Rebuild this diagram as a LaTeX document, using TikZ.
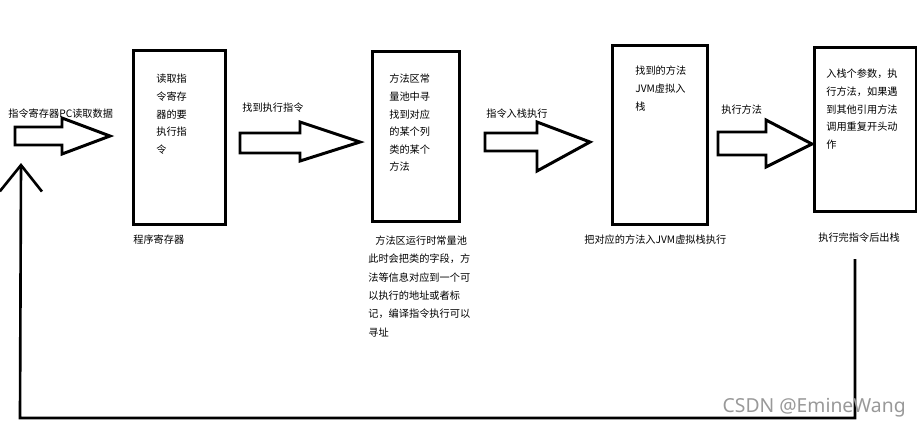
\documentclass[tikz,border=0pt]{standalone}
\usepackage{fontspec}
\setmainfont{Noto Sans CJK SC}
\usetikzlibrary{arrows.meta}

\begin{document}
\begin{tikzpicture}[x=0.02cm,y=-0.02cm,
  box/.style={shape=rectangle,draw=black,line width=1.7pt,inner sep=0pt},
  txt/.style={align=left,inner sep=0pt,font=\fontsize{5.8pt}{10pt}\selectfont},
  blockarrow/.style={draw=black,line width=1.7pt,line join=miter},
  loopline/.style={draw=black,line width=1.5pt,-{Straight Barb[length=15pt,width=24pt,line width=1.5pt]}}]
\useasboundingbox (0,0) rectangle (921,427);
\node[box,minimum width=1.86cm,minimum height=3.5cm] (pcreg) at (179.5,137.5) {};
\node[box,minimum width=1.76cm,minimum height=3.42cm] (pool) at (416,136.5) {};
\node[box,minimum width=1.92cm,minimum height=3.6cm] (jvmstack) at (660,135) {};
\node[box,minimum width=2.04cm,minimum height=3.3cm] (exec) at (865,129.5) {};

\node[txt,anchor=north west] (pcregtxt) at (156,74) {读取指\\令寄存\\器的要\\执行指\\令};
\node[txt,anchor=north west] (pooltxt) at (389,74) {方法区常\\量池中寻\\找到对应\\的某个列\\类的某个\\方法};
\node[txt,anchor=north west] (jvmstacktxt) at (635,66) {找到的方法\\JVM虚拟入\\栈};
\node[txt,anchor=north west] (exectxt) at (826,69) {入栈个参数，执\\行方法，如果遇\\到其他引用方法\\调用重复开头动\\作};

\node[txt,anchor=west] (pcreglbl) at (133,240) {程序寄存器};
\node[txt,anchor=west] (poollbl) at (375,241) {方法区运行时常量池};
\node[txt,anchor=north west,font=\fontsize{5.8pt}{10.4pt}\selectfont] (poolnote) at (368,254) {此时会把类的字段，方\\法等信息对应到一个可\\以执行的地址或者标\\记，编译指令执行可以\\寻址};
\node[txt,anchor=west] (jvmstacklbl) at (584,240) {把对应的方法入JVM虚拟栈执行};
\node[txt,anchor=west] (execlbl) at (818,238) {执行完指令后出栈};

\node[txt,anchor=west] (readlbl) at (8,114) {指令寄存器PC读取数据};
\node[txt,anchor=west] (findlbl) at (242,108) {找到执行指令};
\node[txt,anchor=west] (pushlbl) at (486,114) {指令入栈执行};
\node[txt,anchor=west] (runlbl) at (721,110) {执行方法};

\draw[blockarrow] (15,127) -- (62,127) -- (62,118) -- (110,136) -- (62,154) -- (62,145) -- (15,145) -- cycle;
\draw[blockarrow] (240,133) -- (300,133) -- (300,122) -- (360,142) -- (300,161) -- (300,153) -- (240,153) -- cycle;
\draw[blockarrow] (485,133) -- (537,133) -- (537,122) -- (590,142) -- (537,171) -- (537,151) -- (485,151) -- cycle;
\draw[blockarrow] (718,132) -- (766,132) -- (766,120) -- (812,144) -- (766,167) -- (766,155) -- (718,155) -- cycle;

\coordinate (loopstart) at (855,259);
\coordinate (loopbot) at (20,418);
\coordinate (looptip) at (21,163);
\draw[loopline] (loopstart) |- (loopbot) -- (looptip);

\node[anchor=east,inner sep=0pt,text=black!40,font=\fontsize{11pt}{11pt}\selectfont\fontspec{Noto Sans}] (mark) at (906,408) {CSDN @EmineWang};
\end{tikzpicture}
\end{document}
